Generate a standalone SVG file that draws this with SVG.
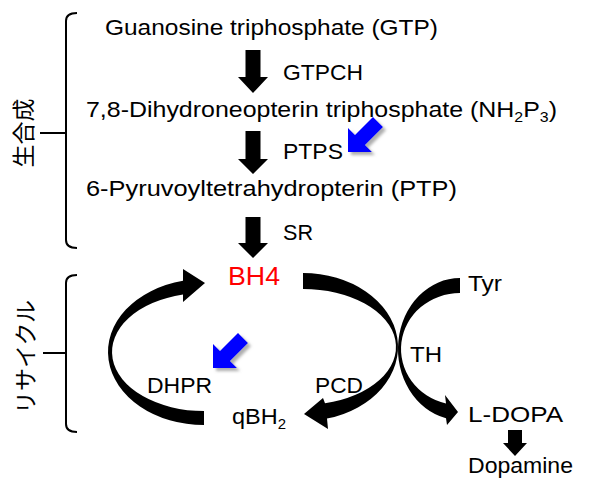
<svg xmlns="http://www.w3.org/2000/svg" width="591" height="487" viewBox="0 0 591 487">
<style>
text{font-family:"Liberation Sans","Noto Sans CJK JP",sans-serif;font-size:22px;fill:#000}
.sub{font-size:14px}
.red{fill:#ff0000;font-size:26px}
.jp{font-size:23px}
.blk{fill:#000}
.blue{fill:#0000ff;filter:url(#sh)}
.br{fill:none;stroke:#000;stroke-width:2}
</style>
<defs>
<filter id="sh" x="-30%" y="-30%" width="160%" height="160%">
<feDropShadow dx="3" dy="3" stdDeviation="1.5" flood-color="#777" flood-opacity="0.6"/>
</filter>
</defs>
<rect width="591" height="487" fill="#fff"/>
<g id="brackets">
<path class="br" d="M77 13 Q66 13 66 21 V240 Q66 248 77 248 M40 133 H66"/>
<path class="br" d="M77 275 Q66 275 66 283 V424 Q66 432 77 432 M43 353 H66"/>
</g>
<g id="label-biosynthesis"><text class="jp" transform="translate(32,133) rotate(-90)" text-anchor="middle">生合成</text></g>
<g id="label-recycle"><text class="jp" transform="translate(34,357) rotate(-90)" text-anchor="middle">リサイクル</text></g>
<g id="connectors">
<path class="blk" d="M245.5 50 H260.5 V77 H268 L253 93 L238 77 H245.5 Z"/>
<path class="blk" d="M245.5 131 H260.5 V159 H268 L253 174 L238 159 H245.5 Z"/>
<path class="blk" d="M245.5 217 H260.5 V243 H268 L253 258 L238 243 H245.5 Z"/>
<path class="blk" d="M508 430 H522 V443 H527 L515 456 L503 443 H508 Z"/>
<path class="blk" d="M204 425 A96 73 0 0 1 183 280.77 L183 269 L205 283 L183 302 L183 294.56 A92 59 0 0 0 204 411 Z"/>
<path class="blk" d="M303 273 A95 74 0 0 1 327 418.6 L328 429 L304 414 L323 398 L325 403.35 A93 58 0 0 0 303 289 Z"/>
<path class="blk" d="M460 278 A62 71 0 0 0 446 418.17 L447 425 L458 412 L445 395 L446 403.4 A59 56 0 0 1 460 293 Z"/>
<path class="blue" transform="translate(348,152)" d="M0 0 L0 -24 L7 -17 L25 -35 L35 -25 L17 -7 L24 0 Z"/>
<path class="blue" transform="translate(213,368)" d="M0 0 L0 -24 L7 -17 L25 -35 L35 -25 L17 -7 L24 0 Z"/>
</g>
<g id="gtp"><text x="105" y="35" textLength="333" lengthAdjust="spacingAndGlyphs">Guanosine triphosphate (GTP)</text></g>
<g id="gtpch"><text x="283" y="80" textLength="80" lengthAdjust="spacingAndGlyphs">GTPCH</text></g>
<g id="nh2p3"><text x="86" y="117" textLength="471" lengthAdjust="spacingAndGlyphs">7,8-Dihydroneopterin triphosphate (NH<tspan class="sub" dy="5">2</tspan><tspan dy="-5">P</tspan><tspan class="sub" dy="5">3</tspan><tspan dy="-5">)</tspan></text></g>
<g id="ptps"><text x="283" y="159" textLength="60" lengthAdjust="spacingAndGlyphs">PTPS</text></g>
<g id="ptp"><text x="86" y="196" textLength="371" lengthAdjust="spacingAndGlyphs">6-Pyruvoyltetrahydropterin (PTP)</text></g>
<g id="sr"><text x="283" y="240" textLength="30" lengthAdjust="spacingAndGlyphs">SR</text></g>
<g id="bh4"><text class="red" x="228" y="285" textLength="52" lengthAdjust="spacingAndGlyphs">BH4</text></g>
<g id="tyr"><text x="468" y="291" textLength="34" lengthAdjust="spacingAndGlyphs">Tyr</text></g>
<g id="th"><text x="410" y="362" textLength="32" lengthAdjust="spacingAndGlyphs">TH</text></g>
<g id="pcd"><text x="315" y="393" textLength="48" lengthAdjust="spacingAndGlyphs">PCD</text></g>
<g id="dhpr"><text x="147" y="393" textLength="65" lengthAdjust="spacingAndGlyphs">DHPR</text></g>
<g id="qbh2"><text x="232" y="424" textLength="54" lengthAdjust="spacingAndGlyphs">qBH<tspan class="sub" dy="5">2</tspan></text></g>
<g id="ldopa"><text x="468" y="422" textLength="95" lengthAdjust="spacingAndGlyphs">L-DOPA</text></g>
<g id="dopamine"><text x="468" y="473" textLength="105" lengthAdjust="spacingAndGlyphs">Dopamine</text></g>
</svg>
